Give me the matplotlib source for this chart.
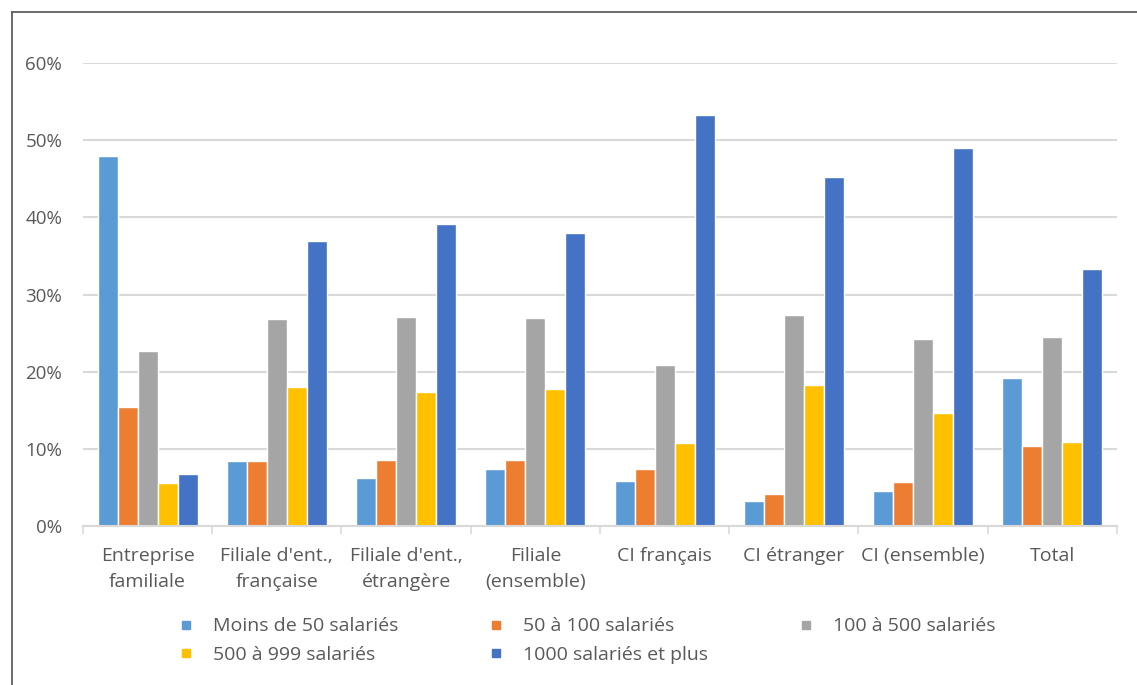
import matplotlib.pyplot as plt
import numpy as np
from matplotlib.lines import Line2D
from matplotlib.ticker import PercentFormatter

plt.rcParams['font.family'] = ['Open Sans', 'DejaVu Sans']

categories = ['Entreprise\nfamiliale', "Filiale d'ent.,\nfrançaise", "Filiale d'ent.,\nétrangère",
              'Filiale\n(ensemble)', 'CI français', 'CI étranger', 'CI (ensemble)', 'Total']

series_names = ['Moins de 50 salariés', '50 à 100 salariés', '100 à 500 salariés',
                '500 à 999 salariés', '1000 salariés et plus']

moins_50 = [47.9, 8.4, 6.2, 7.4, 5.9, 3.3, 4.6, 19.2]
de_50_100 = [15.4, 8.4, 8.5, 8.5, 7.4, 4.2, 5.7, 10.4]
de_100_500 = [22.7, 26.8, 27.1, 27.0, 20.9, 27.4, 24.2, 24.5]
de_500_999 = [5.6, 18.0, 17.4, 17.7, 10.8, 18.3, 14.6, 10.9]
plus_1000 = [6.75, 36.9, 39.2, 38.0, 53.3, 45.2, 49.0, 33.3]

colors = ['#5B9BD5', '#ED7D31', '#A5A5A5', '#FFC000', '#4472C4']
text_color = '#595959'
grid_color = '#D9D9D9'

fig = plt.figure(figsize=(11.37, 6.85), dpi=100)
ax = fig.add_axes([0.073, 0.232, 0.9094, 0.676])

x = np.arange(len(categories))
pitch = 0.1547
all_series = [moins_50, de_50_100, de_100_500, de_500_999, plus_1000]
handles = []
for i, (vals, name, col) in enumerate(zip(all_series, series_names, colors)):
    ax.bar(x + (i - 2) * pitch, np.array(vals) / 100, width=pitch, color=col,
           edgecolor='white', linewidth=1.0, zorder=3)
    handles.append(Line2D([], [], linestyle='none', marker='s', markersize=6,
                          markerfacecolor=col, markeredgecolor=col, label=name))

ax.set_xlim(-0.5, len(categories) - 0.5)
ax.set_ylim(0, 0.6)
ax.yaxis.set_major_formatter(PercentFormatter(1.0, decimals=0))
ax.set_yticks(np.arange(0, 0.61, 0.1))
ax.grid(axis='y', color=grid_color, linewidth=1.5, zorder=0)

# category labels centred, ticks on the group boundaries
ax.set_xticks(x)
ax.set_xticklabels(categories, fontsize=14, color=text_color, linespacing=1.55)
ax.tick_params(axis='x', length=0, pad=15)
ax.set_xticks(np.arange(-0.5, len(categories), 1), minor=True)
ax.tick_params(axis='x', which='minor', length=6, width=1.2, color=grid_color)
ax.tick_params(axis='y', length=0, pad=15, labelsize=13.5, labelcolor=text_color)

for side in ['top', 'right', 'left']:
    ax.spines[side].set_visible(False)
ax.spines['bottom'].set_color(grid_color)
ax.spines['bottom'].set_linewidth(1.5)
ax.spines['bottom'].set_zorder(4)

# legend filled row by row
order = [0, 3, 1, 4, 2]
leg = fig.legend([handles[k] for k in order], [series_names[k] for k in order],
                 ncol=3, loc='upper left', bbox_to_anchor=(0.1497, 0.110),
                 frameon=False, fontsize=14, handlelength=0.8, handletextpad=1.0,
                 columnspacing=4.62, labelspacing=0.55, borderaxespad=0)
for t in leg.get_texts():
    t.set_color(text_color)

# outer frame (left and top edges)
fig.add_artist(Line2D([12 / 1137, 12 / 1137], [0, 1 - 12 / 685], color='#5F5F5F',
                      linewidth=1.3, transform=fig.transFigure))
fig.add_artist(Line2D([12 / 1137, 1], [1 - 12 / 685, 1 - 12 / 685], color='#5F5F5F',
                      linewidth=1.3, transform=fig.transFigure))

fig.savefig('out.png', dpi=100)
